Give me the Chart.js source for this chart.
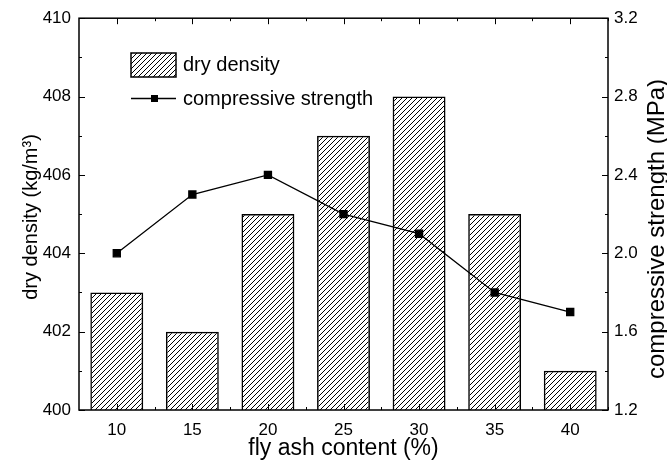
<!DOCTYPE html>
<html>
<head>
<meta charset="utf-8">
<script src="https://cdn.jsdelivr.net/npm/chart.js@4.4.0/dist/chart.umd.min.js"></script>
<style>
  html, body { margin: 0; padding: 0; background: #fff; }
  canvas { display: block; }
</style>
</head>
<body>
<canvas id="chart" width="667" height="464"></canvas>
<script>
const categories = ["10", "15", "20", "25", "30", "35", "40"];
const dryDensity = [403, 402, 405, 407, 408, 405, 401];
const strength = [2.0, 2.3, 2.4, 2.2, 2.1, 1.8, 1.7];
const densityTicks = [400, 410, 2];
const strengthTicks = [1.2, 3.2, 0.4];

const FONT = "'Liberation Sans', Arial, sans-serif";
Chart.defaults.font.family = FONT;
Chart.defaults.color = "#000";

const canvas = document.getElementById("chart");
const ctx = canvas.getContext("2d");

function makeHatch() {
  const s = 5;
  const c = document.createElement("canvas");
  c.width = s; c.height = s;
  const g = c.getContext("2d");
  g.strokeStyle = "#000";
  g.lineWidth = 1;
  g.beginPath();
  g.moveTo(0, s); g.lineTo(s, 0);
  g.moveTo(-1, 1); g.lineTo(1, -1);
  g.moveTo(s - 1, s + 1); g.lineTo(s + 1, s - 1);
  g.stroke();
  return ctx.createPattern(c, "repeat");
}
const hatch = makeHatch();

// frame, inward ticks, titles and the legend
const decor = {
  id: "decor",
  afterDatasetsDraw(chart) {
    const c = chart.ctx;
    const a = chart.chartArea;
    c.save();
    c.strokeStyle = "#000";
    c.lineWidth = 1.5;
    c.strokeRect(a.left, a.top, a.right - a.left, a.bottom - a.top);

    c.lineWidth = 1;
    c.beginPath();
    [["y", a.left, 1], ["y1", a.right, -1]].forEach(([id, x0, dir]) => {
      const sc = chart.scales[id];
      const vals = sc.ticks.map(t => t.value);
      vals.forEach((v, i) => {
        const p = Math.round(sc.getPixelForValue(v)) + 0.5;
        c.moveTo(x0, p); c.lineTo(x0 + dir * 6, p);
        if (i < vals.length - 1) {
          const m = Math.round(sc.getPixelForValue((v + vals[i + 1]) / 2)) + 0.5;
          c.moveTo(x0, m); c.lineTo(x0 + dir * 3, m);
        }
      });
    });
    const xs = chart.scales.x;
    categories.forEach((_, i) => {
      const p = Math.round(xs.getPixelForValue(i)) + 0.5;
      const b = Math.round(xs.getPixelForValue(i + 0.5)) + 0.5;
      c.moveTo(p, a.bottom); c.lineTo(p, a.bottom - 6);
      c.moveTo(p, a.top); c.lineTo(p, a.top + 6);
      c.moveTo(b, a.bottom); c.lineTo(b, a.bottom - 3);
      c.moveTo(b, a.top); c.lineTo(b, a.top + 3);
    });
    c.stroke();
    c.restore();
  },
  afterDraw(chart) {
    const c = chart.ctx;
    const a = chart.chartArea;
    c.save();
    c.fillStyle = "#000";
    c.textAlign = "center";
    c.textBaseline = "alphabetic";
    c.font = "23px " + FONT;
    c.fillText("fly ash content (%)", (a.left + a.right) / 2, 455);

    c.font = "20px " + FONT;
    c.save();
    c.translate(37, 217);
    c.rotate(-Math.PI / 2);
    c.fillText("dry density (kg/m\u00B3)", 0, 0);
    c.restore();

    c.font = "24px " + FONT;
    c.save();
    c.translate(664, 229);
    c.rotate(-Math.PI / 2);
    c.fillText("compressive strength (MPa)", 0, 0);
    c.restore();

    // legend
    c.font = "20px " + FONT;
    c.textAlign = "left";
    c.textBaseline = "middle";
    c.fillStyle = hatch;
    c.fillRect(131, 53, 45, 24);
    c.strokeStyle = "#000";
    c.lineWidth = 1.5;
    c.strokeRect(131, 53, 45, 24);
    c.fillStyle = "#000";
    c.fillText("dry density", 183, 65);

    c.lineWidth = 1.3;
    c.beginPath();
    c.moveTo(131, 98.5); c.lineTo(176, 98.5);
    c.stroke();
    c.fillRect(151, 95, 7, 7);
    c.fillText("compressive strength", 183, 99);
    c.restore();
  }
};

const tickFont = { size: 17 };

new Chart(canvas, {
  type: "bar",
  data: {
    labels: categories,
    datasets: [{
      type: "line",
      label: "compressive strength",
      data: strength,
      yAxisID: "y1",
      borderColor: "#000",
      backgroundColor: "#000",
      borderWidth: 1.3,
      pointStyle: "rect",
      pointRadius: 5,
      tension: 0,
      order: 0
    }, {
      label: "dry density",
      data: dryDensity,
      yAxisID: "y",
      backgroundColor: hatch,
      borderColor: "#000",
      borderWidth: 1.5,
      borderSkipped: false,
      barPercentage: 0.7,
      categoryPercentage: 1.0,
      order: 1
    }]
  },
  options: {
    responsive: false,
    animation: false,
    layout: { padding: { top: 14, left: 0, right: 0, bottom: 0 } },
    plugins: { legend: { display: false }, tooltip: { enabled: false } },
    scales: {
      x: {
        offset: true,
        grid: { display: false, drawTicks: false },
        border: { display: false },
        ticks: { font: tickFont, padding: 10, color: "#000" },
        afterFit(s) { s.height = 54; }
      },
      y: {
        position: "left",
        min: densityTicks[0],
        max: densityTicks[1],
        grid: { display: false, drawTicks: false },
        border: { display: false },
        ticks: { stepSize: densityTicks[2], font: tickFont, padding: 8, color: "#000" },
        afterFit(s) { s.width = 79; }
      },
      y1: {
        position: "right",
        min: strengthTicks[0],
        max: strengthTicks[1],
        grid: { display: false, drawTicks: false },
        border: { display: false },
        ticks: {
          stepSize: strengthTicks[2],
          font: tickFont,
          padding: 6,
          color: "#000",
          callback: v => Number(v).toFixed(1)
        },
        afterFit(s) { s.width = 59; }
      }
    }
  },
  plugins: [decor]
});
</script>
</body>
</html>
